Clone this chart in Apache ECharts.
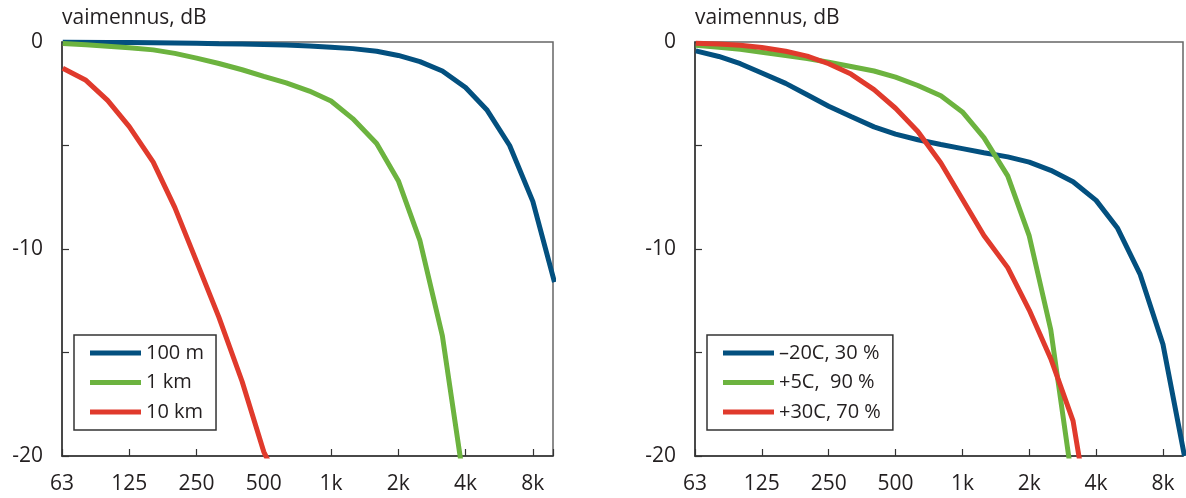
<!DOCTYPE html>
<html>
<head>
<meta charset="utf-8">
<script src="https://cdn.jsdelivr.net/npm/echarts@6/dist/echarts.min.js"></script>
<style>
  html, body { margin: 0; padding: 0; background: #fff; }
  #main { width: 1186px; height: 498px; }
</style>
</head>
<body>
<div id="main"></div>
<script>
"use strict";

// terssitaajuudet (1/3 oktaavi), x-akselin merkinnät
const freqs = [63, 80, 100, 125, 160, 200, 250, 315, 400, 500, 630, 800,
  1000, 1250, 1600, 2000, 2500, 3150, 4000, 5000, 6300, 8000, 10000];
const xLabels = ['63', '125', '250', '500', '1k', '2k', '4k', '8k'];

// vasen kuva: etäisyys
const dist100m = [0, -0.01, -0.02, -0.03, -0.04, -0.05, -0.06, -0.08, -0.1, -0.12, -0.15,
  -0.19, -0.25, -0.32, -0.45, -0.65, -0.95, -1.4, -2.2, -3.3, -5.0, -7.7, -11.6];
const dist1km = [-0.07, -0.13, -0.2, -0.28, -0.38, -0.55, -0.78, -1.04, -1.34, -1.66,
  -1.97, -2.37, -2.85, -3.7, -4.9, -6.7, -9.6, -14.2, -21.8];
const dist10km = [-1.27, -1.85, -2.82, -4.09, -5.8, -8.0, -10.6, -13.3, -16.4, -19.8, -22];

// oikea kuva: lämpötila ja kosteus
const cold = [-0.43, -0.7, -1.05, -1.5, -2.0, -2.55, -3.1, -3.6, -4.1, -4.45, -4.72,
  -4.95, -5.15, -5.35, -5.55, -5.8, -6.2, -6.75, -7.65, -9.0, -11.2, -14.6, -20.0];
const mild = [-0.16, -0.25, -0.35, -0.5, -0.65, -0.8, -0.98, -1.18, -1.4, -1.7, -2.1,
  -2.6, -3.38, -4.62, -6.47, -9.37, -13.9, -21.5];
const warm = [-0.06, -0.1, -0.16, -0.27, -0.45, -0.68, -1.05, -1.55, -2.3, -3.2, -4.32,
  -5.85, -7.6, -9.35, -10.9, -12.95, -15.3, -18.3, -25];

const leftNames = ['100 m', '1 km', '10 km'];
const rightNames = ['\u201320C, 30 %', '+5C,  90 %', '+30C, 70 %'];

const colors = ['#03507f', '#6cb33f', '#e03a2c'];
const font = '"Open Sans", "DejaVu Sans", sans-serif';
const textColor = '#231f20';

// oktaavit 62.5 Hz:stä
function pts(vals) {
  return vals.map((v, i) => [Math.log2(freqs[i] / 62.5), v]);
}

let myChart = echarts.init(document.getElementById('main'));

function xAxis(gridIndex) {
  return {
    gridIndex: gridIndex,
    type: 'value',
    min: 0,
    max: 7.3,
    interval: 1,
    axisLine: { show: true, onZero: false, lineStyle: { color: '#333', width: 1.5 } },
    axisTick: { show: true, inside: true, length: 7, lineStyle: { color: '#333', width: 1.2 } },
    splitLine: { show: false },
    axisLabel: {
      margin: 18,
      fontSize: 21,
      fontFamily: font,
      color: textColor,
      formatter: function (v) {
        let r = Math.round(v);
        return Math.abs(v - r) < 1e-6 && xLabels[r] ? xLabels[r] : '';
      },
    },
  };
}

function yAxis(gridIndex) {
  return {
    gridIndex: gridIndex,
    type: 'value',
    min: -20,
    max: 0,
    interval: 5,
    name: 'vaimennus, dB',
    nameLocation: 'end',
    nameGap: 24,
    nameTextStyle: {
      align: 'left',
      verticalAlign: 'middle',
      fontSize: 21,
      fontFamily: font,
      color: textColor,
    },
    axisLine: { show: true, lineStyle: { color: '#333', width: 1.5 } },
    axisTick: { show: true, inside: true, length: 7, lineStyle: { color: '#333', width: 1.2 } },
    splitLine: { show: false },
    axisLabel: {
      margin: 19,
      fontSize: 21,
      fontFamily: font,
      color: textColor,
      formatter: function (v) {
        return v % 10 === 0 ? String(v) : '';
      },
    },
  };
}

function legend(left, names) {
  return {
    orient: 'vertical',
    left: left,
    top: 335,
    data: names.map(n => ({ name: n, icon: 'rect' })),
    itemWidth: 51,
    itemHeight: 5,
    itemGap: 9.5,
    padding: [8, 12, 8, 16],
    borderColor: '#333',
    borderWidth: 1.5,
    backgroundColor: '#fff',
    textStyle: {
      fontSize: 20,
      lineHeight: 20,
      fontFamily: font,
      color: textColor,
    },
  };
}

function line(name, data, idx, color) {
  return {
    name: name,
    type: 'line',
    xAxisIndex: idx,
    yAxisIndex: idx,
    data: data,
    showSymbol: false,
    symbol: 'none',
    clip: true,
    lineStyle: { color: color, width: 5 },
    itemStyle: { color: color },
  };
}

let option = {
  animation: false,
  grid: [
    { left: 62, top: 42, width: 491, height: 414, show: true, borderColor: '#666', borderWidth: 1.5 },
    { left: 695, top: 42, width: 490, height: 414, show: true, borderColor: '#666', borderWidth: 1.5 },
  ],
  xAxis: [xAxis(0), xAxis(1)],
  yAxis: [yAxis(0), yAxis(1)],
  legend: [legend(74, leftNames), legend(707, rightNames)],
  series: [
    line(leftNames[0], pts(dist100m), 0, colors[0]),
    line(leftNames[1], pts(dist1km), 0, colors[1]),
    line(leftNames[2], pts(dist10km), 0, colors[2]),
    line(rightNames[0], pts(cold), 1, colors[0]),
    line(rightNames[1], pts(mild), 1, colors[1]),
    line(rightNames[2], pts(warm), 1, colors[2]),
  ],
};

myChart.setOption(option);
</script>
</body>
</html>
